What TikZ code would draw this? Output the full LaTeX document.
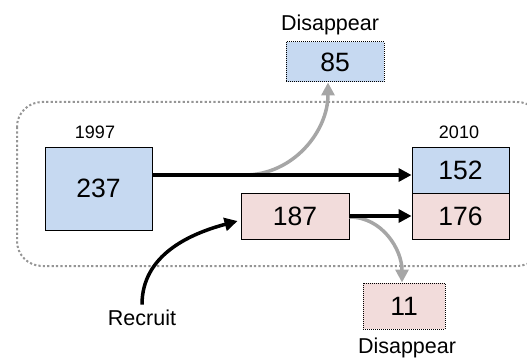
\documentclass[tikz,border=0pt]{standalone}
\usepackage{fontspec}
\setmainfont{Liberation Sans}
\usetikzlibrary{arrows.meta}
\definecolor{cohortblue}{HTML}{C6D9F1}
\definecolor{cohortpink}{HTML}{F2DCDB}
\definecolor{flowgray}{HTML}{A6A6A6}
\tikzset{
  % boxes holding the counts
  countbox/.style={draw=black, line width=0.9pt, inner sep=0pt,
    font=\fontsize{26.5}{30}\selectfont},
  oldbox/.style={countbox, fill=cohortblue},
  newbox/.style={countbox, fill=cohortpink},
  lostbox/.style={draw=black, line width=1pt, densely dotted},
  label/.style={font=\fontsize{21.5}{25}\selectfont},
  yearlabel/.style={font=\fontsize{18}{21}\selectfont},
  % connectors
  survive/.style={line width=3.5pt, -{Triangle[length=13pt,width=13pt]}},
  vanish/.style={survive, draw=flowgray},
  groupframe/.style={draw=flowgray!90!black, line width=2pt, dash pattern=on 2.2pt off 2.2pt,
    rounded corners=25pt},
}

\begin{document}
\begin{tikzpicture}[x=1pt,y=-1pt]
  \useasboundingbox (0,0) rectangle (527,358);

  % frame round the census
  \draw[groupframe] (17,102) rectangle (542,266);

  \node[oldbox, minimum width=107pt, minimum height=83pt] at (98.5,188.5) (n237) {237};
  \node[oldbox, minimum width=97pt, minimum height=46pt] at (460.5,170) (n152) {152};
  \node[newbox, minimum width=97pt, minimum height=46pt] at (460.5,216) (n176) {176};
  \node[newbox, minimum width=108pt, minimum height=46pt] at (295,216) (n187) {187};

  \node[oldbox, lostbox, minimum width=98pt, minimum height=40pt] at (335,62) (n85) {85};
  \node[newbox, lostbox, minimum width=82pt, minimum height=46pt] at (404,306) (n11) {11};

  \node[label] at (330,25) (lostold) {Disappear};
  \node[label] at (407,348) (lostnew) {Disappear};
  \node[yearlabel] at (95,132) (start) {1997};
  \node[yearlabel] at (459,132) (finish) {2010};
  \node[label] at (142,318) (recruit) {Recruit};

  % main flow runs a little below the middle of 152
  \coordinate (arrive) at ([yshift=-5pt]n152.west);
  \coordinate (depart) at (n237.east |- arrive);
  % where the lost ones leave the main flow
  \coordinate (fork) at ([xshift=92pt]depart);

  \draw[vanish] (fork) to[out=0, in=-90] ([xshift=-7pt]n85.south);
  \draw[vanish] ([yshift=-1pt]n187.east) to[out=0, in=90] ([xshift=-2pt]n11.north);

  \draw[survive] (depart) -- (arrive);
  \draw[survive] (n187.east) -- (n176.west);
  \draw[survive] ([yshift=2pt]recruit.north) to[out=90, in=195] ([xshift=-3pt,yshift=-5pt]n187.west);

\end{tikzpicture}
\end{document}
